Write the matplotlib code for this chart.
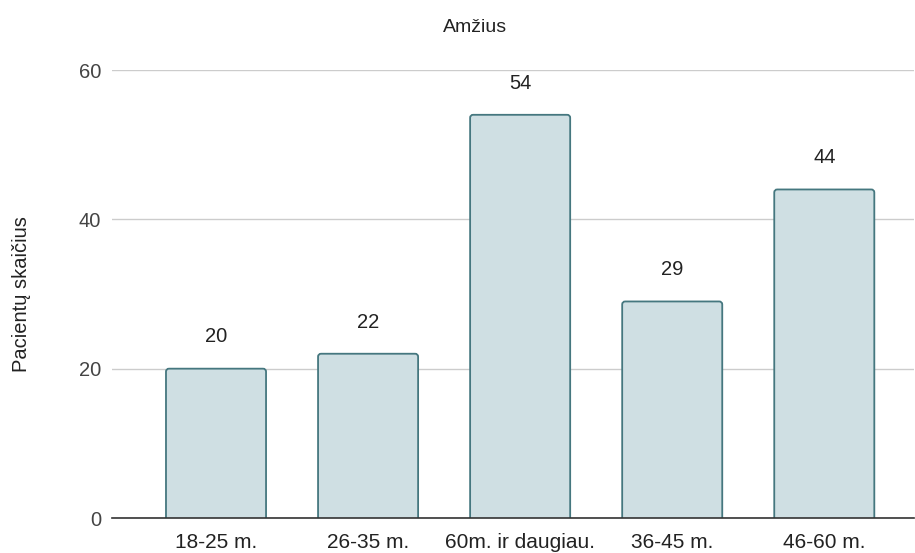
import matplotlib
matplotlib.use("Agg")
import matplotlib.pyplot as plt
from matplotlib.patches import FancyBboxPatch

plt.rcParams['font.family'] = ['Liberation Sans', 'DejaVu Sans']

# duomenys
kategorijos = ["18-25 m.", "26-35 m.", "60m. ir daugiau.", "36-45 m.", "46-60 m."]
reiksmes = [20, 22, 54, 29, 44]
y_ticks = [0, 20, 40, 60]

fig = plt.figure(figsize=(9.15, 5.53), dpi=100)
ax = fig.add_axes([112/915, 35/553, 802/915, 448/553])

bars = ax.bar(range(len(kategorijos)), reiksmes, width=0.658,
              color="#cfdfe3", edgecolor="#45777f", linewidth=1.3, zorder=3)

# apvalūs viršutiniai kampai
for b in bars:
    x, w, h = b.get_x(), b.get_width(), b.get_height()
    b.set_visible(False)
    p = FancyBboxPatch((x, -2), w, h + 2,
                       boxstyle="round,pad=0,rounding_size=0.02",
                       mutation_aspect=20,
                       facecolor="#cfdfe3", edgecolor="#45777f",
                       linewidth=1.3, zorder=3, clip_on=True)
    ax.add_patch(p)

for i, v in enumerate(reiksmes):
    ax.annotate(str(v), (i, v), xytext=(0, 16), textcoords="offset points",
                ha="center", va="bottom", fontsize=14.5, color="#222222")

ax.set_xlim(-0.684, 4.59)
ax.set_ylim(0, 60)
ax.set_yticks(y_ticks)
ax.set_xticks(range(len(kategorijos)))
ax.set_xticklabels(kategorijos)
ax.tick_params(axis="x", length=0, pad=11, labelsize=15, labelcolor="#222222")
ax.tick_params(axis="y", length=0, pad=8, labelsize=14.5, labelcolor="#444444")
ax.grid(axis="y", color="#cccccc", linewidth=1, zorder=0)
for s in ["top", "right", "left"]:
    ax.spines[s].set_visible(False)
ax.spines["bottom"].set_color("#333333")
ax.spines["bottom"].set_linewidth(1.2)
ax.spines["bottom"].set_zorder(4)

ax.set_ylabel("Pacientų skaičius", fontsize=14.5, color="#222222", labelpad=34)
fig.text(475/915, 1 - 27/553, "Amžius", ha="center", va="center",
         fontsize=14, color="#222222")

fig.savefig("out.png", dpi=100)
